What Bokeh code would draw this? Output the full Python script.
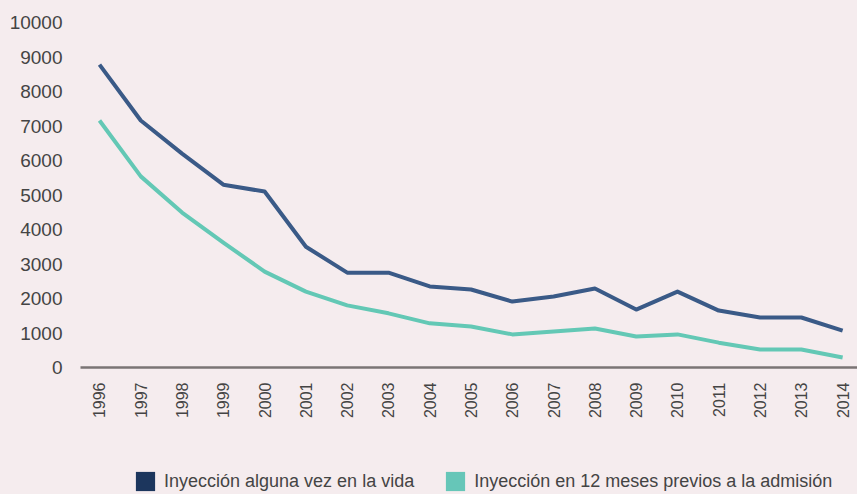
import math
from bokeh.plotting import figure
from bokeh.layouts import column
from bokeh.models import Range1d, FixedTicker, Legend, LegendItem, ColumnDataSource
from bokeh.embed import file_html
from bokeh.resources import INLINE

years = list(range(1996, 2015))
alguna_vez = [8780, 7160, 6200, 5300, 5100, 3500, 2750, 2750, 2350, 2260,
              1910, 2060, 2290, 1680, 2200, 1650, 1450, 1450, 1070]
doce_meses = [7160, 5540, 4490, 3620, 2780, 2200, 1800, 1570, 1280, 1190,
              960, 1040, 1130, 900, 960, 720, 520, 520, 290]
y_ticks = list(range(0, 10001, 1000))
series_names = ["Inyección alguna vez en la vida",
                "Inyección en 12 meses previos a la admisión"]

BG = "#f5ecee"
DARK = "#3a5a87"
TEAL = "#63c8b5"
DARK_SQ = "#1c365d"
TEAL_SQ = "#66c6b8"
FONT = "Liberation Sans"

p = figure(width=857, height=438, output_backend="svg", toolbar_location=None,
           x_range=Range1d(1995.54, 2014.36), y_range=Range1d(0, 10290),
           min_border_left=80, min_border_right=0, min_border_top=12,
           min_border_bottom=71)
p.background_fill_color = BG
p.border_fill_color = BG
p.outline_line_color = None
p.grid.grid_line_color = None

src = ColumnDataSource(dict(x=years, a=alguna_vez, b=doce_meses))
p.line("x", "a", source=src, line_color=DARK, line_width=4, line_join="round")
p.line("x", "b", source=src, line_color=TEAL, line_width=4, line_join="round")

p.xaxis.ticker = FixedTicker(ticks=years)
p.xaxis.major_label_orientation = math.pi / 2
p.xaxis.axis_line_color = "#7a7474"
p.xaxis.axis_line_width = 2.5
p.xaxis.major_tick_line_color = None
p.xaxis.minor_tick_line_color = None
p.xaxis.major_label_standoff = 9
p.xaxis.major_label_text_font = FONT
p.xaxis.major_label_text_font_size = "16px"
p.xaxis.major_label_text_color = "#444444"

p.yaxis.ticker = FixedTicker(ticks=y_ticks)
p.yaxis.axis_line_color = None
p.yaxis.major_tick_line_color = None
p.yaxis.minor_tick_line_color = None
p.yaxis.major_label_standoff = 12
p.yaxis.major_label_text_font = FONT
p.yaxis.major_label_text_font_size = "19px"
p.yaxis.major_label_text_color = "#444444"

# legend strip
lg = figure(width=857, height=56, output_backend="svg", toolbar_location=None,
            x_range=Range1d(0, 1), y_range=Range1d(0, 1),
            min_border_left=0, min_border_right=0, min_border_top=0,
            min_border_bottom=0)
lg.background_fill_color = BG
lg.border_fill_color = BG
lg.outline_line_color = None
lg.grid.visible = False
lg.axis.visible = False

sq1 = lg.rect(x=[-10], y=[-10], width=0.1, height=0.1,
              fill_color=DARK_SQ, line_color=None)
sq2 = lg.rect(x=[-10], y=[-10], width=0.1, height=0.1,
              fill_color=TEAL_SQ, line_color=None)

legend = Legend(items=[LegendItem(label=series_names[0], renderers=[sq1]),
                       LegendItem(label=series_names[1], renderers=[sq2])],
                orientation="horizontal", location=(53, 1),
                background_fill_alpha=0, border_line_color=None,
                label_text_font=FONT, label_text_font_size="18px",
                label_text_color="#444444", glyph_width=24, glyph_height=24,
                label_standoff=7, spacing=29, padding=0, margin=0)
lg.add_layout(legend)

layout = column(p, lg, spacing=0)

html = file_html(layout, INLINE)
html = html.replace("<head>", "<head><style>body{background:%s;}</style>" % BG, 1)
open("out.html", "w").write(html)
